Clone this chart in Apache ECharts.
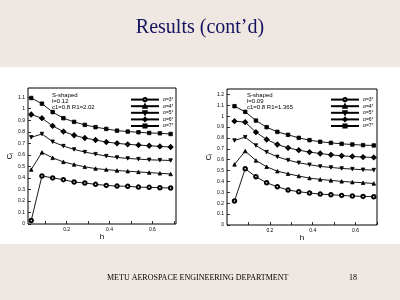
<!DOCTYPE html>
<html><head><meta charset="utf-8">
<script src="https://cdn.jsdelivr.net/npm/echarts@6/dist/echarts.min.js"></script>
<style>html,body{margin:0;padding:0;background:#EFE8E2}#c{width:400px;height:300px}</style>
</head><body><div id="c"></div>
<script>
// ---- data ----
const hValues = [0.035,0.085,0.135,0.185,0.235,0.285,0.335,0.385,0.435,0.485,0.535,0.585,0.635,0.685];
const alphaNames = ['α=3°','α=4°','α=5°','α=6°','α=7°'];

// left chart: S-shaped, l=0.12, c1=0.8, R1=2.02
const leftA3 = [0.03,0.417,0.40,0.385,0.364,0.356,0.344,0.335,0.329,0.327,0.32,0.318,0.315,0.312];
const leftA4 = [0.472,0.621,0.574,0.539,0.516,0.496,0.481,0.472,0.464,0.458,0.452,0.446,0.44,0.434];
const leftA5 = [0.752,0.781,0.714,0.676,0.647,0.624,0.606,0.589,0.577,0.569,0.563,0.557,0.554,0.551];
const leftA6 = [0.95,0.918,0.851,0.802,0.77,0.746,0.729,0.711,0.70,0.691,0.685,0.679,0.673,0.668];
const leftA7 = [1.093,1.044,0.971,0.918,0.886,0.86,0.84,0.825,0.81,0.802,0.796,0.79,0.787,0.781];

// right chart: S-shaped, l=0.09, c1=0.8, R1=1.365
const rightA3 = [0.22,0.517,0.443,0.388,0.352,0.321,0.306,0.294,0.284,0.278,0.272,0.266,0.263,0.26];
const rightA4 = [0.557,0.679,0.593,0.535,0.495,0.471,0.45,0.431,0.419,0.41,0.401,0.394,0.388,0.382];
const rightA5 = [0.777,0.807,0.731,0.67,0.627,0.596,0.572,0.554,0.538,0.529,0.52,0.514,0.508,0.505];
const rightA6 = [0.954,0.945,0.853,0.786,0.74,0.709,0.688,0.67,0.657,0.645,0.636,0.63,0.624,0.621];
const rightA7 = [1.092,1.04,0.96,0.899,0.856,0.829,0.801,0.78,0.765,0.755,0.746,0.74,0.734,0.731];

// tick labels
const xTickLabels = [0.2,0.4,0.6];
const xTickMarks = [0.1,0.2,0.3,0.4,0.5,0.6,0.7];
const leftYTicks = [0,0.1,0.2,0.3,0.4,0.5,0.6,0.7,0.8,0.9,1,1.1];
const rightYTicks = [0,0.1,0.2,0.3,0.4,0.5,0.6,0.7,0.8,0.9,1,1.1,1.2];

// ---- chart ----
const FONT = 'Liberation Sans';
const symbols = [
  {symbol:'emptyCircle', rotate:0},
  {symbol:'triangle', rotate:0},
  {symbol:'triangle', rotate:180},
  {symbol:'emptyDiamond', rotate:0},
  {symbol:'rect', rotate:0}
];
function pairs(arr){ return arr.map((v,i)=>[hValues[i], v]); }
function makeSeries(idx, arrays){
  return arrays.map((arr,k)=>({
    type:'line', name: alphaNames[k], xAxisIndex: idx, yAxisIndex: idx,
    data: pairs(arr), symbol: symbols[k].symbol, symbolRotate: symbols[k].rotate,
    symbolSize: 3.5, showAllSymbol: true,
    lineStyle:{color:'#000', width:0.9}, itemStyle:{color:'#000', borderColor:'#000', borderWidth:0.8},
    animation:false
  }));
}
function xAxis(idx, min, max){
  return {type:'value', gridIndex: idx, min, max,
    axisLine:{show:false},
    axisTick:{show:true, inside:true, length:3, customValues:xTickMarks, lineStyle:{color:'#000', width:0.8}},
    axisLabel:{customValues:xTickLabels, fontSize:5, color:'#000', margin:3, fontFamily:FONT},
    splitLine:{show:false},
    name:'h', nameLocation:'middle', nameGap:9, nameTextStyle:{fontSize:8, color:'#000', fontFamily:FONT}};
}
function yAxis(idx, min, max, ticks, gap){
  return {type:'value', gridIndex: idx, min, max,
    axisLine:{show:false},
    axisTick:{show:true, inside:true, length:3, customValues:ticks, lineStyle:{color:'#000', width:0.8}},
    axisLabel:{customValues:ticks, fontSize:5, color:'#000', margin:3, fontFamily:FONT},
    splitLine:{show:false},
    name:'{c|C}{s|l}', nameLocation:'middle', nameGap:gap, nameRotate:90,
    nameTextStyle:{color:'#000', fontFamily:FONT, rich:{c:{fontSize:8, color:'#000'}, s:{fontSize:5, color:'#000', verticalAlign:'bottom'}}}};
}
function legend(left){
  return {orient:'vertical', left, top:92, itemWidth:28, itemHeight:4, itemGap:1.4,
    data: alphaNames, selectedMode:false,
    textStyle:{fontSize:5, color:'#000', fontFamily:FONT, lineHeight:4, padding:[0,0,0,-1]}};
}
function txt(x,y,s){
  return {type:'text', left:x, top:y, style:{text:s, fontSize:6, fill:'#000', fontFamily:FONT}};
}
const chart = echarts.init(document.getElementById('c'), null, {renderer:'canvas'});
chart.setOption({
  backgroundColor:'#EFE8E2',
  animation:false,
  title:{text:'Results (cont’d)', left:'center', top:13,
    textStyle:{fontFamily:'Liberation Serif', fontSize:20, fontWeight:'normal', color:'#14125e'}},
  grid:[
    {left:28, top:88, width:148, height:136, show:true, borderColor:'#000', borderWidth:1, backgroundColor:'#fff'},
    {left:227, top:89, width:150, height:136, show:true, borderColor:'#000', borderWidth:1, backgroundColor:'#fff'}
  ],
  xAxis:[xAxis(0,0.02,0.71), xAxis(1,0,0.70)],
  yAxis:[yAxis(0,0,1.18,leftYTicks,13), yAxis(1,0,1.25,rightYTicks,12)],
  legend:[legend(125), legend(325)],
  graphic:[
    {type:'rect', left:0, top:67, shape:{width:400, height:177}, style:{fill:'#fff'}, z:-100, silent:true},
    txt(52,92,'S-shaped'), txt(52,98,'l=0.12'), txt(52,104,'c1=0.8 R1=2.02'),
    txt(247,92,'S-shaped'), txt(247,98,'l=0.09'), txt(247,104,'c1=0.8 R1=1.365'),
    {type:'text', left:107, top:274, style:{text:'METU AEROSPACE ENGINEERING DEPARTMENT', fontSize:8, fill:'#000', fontFamily:'Liberation Serif'}},
    {type:'text', left:349, top:274, style:{text:'18', fontSize:8, fill:'#000', fontFamily:'Liberation Serif'}}
  ],
  series:[].concat(
    makeSeries(0,[leftA3,leftA4,leftA5,leftA6,leftA7]),
    makeSeries(1,[rightA3,rightA4,rightA5,rightA6,rightA7])
  )
});
</script></body></html>
